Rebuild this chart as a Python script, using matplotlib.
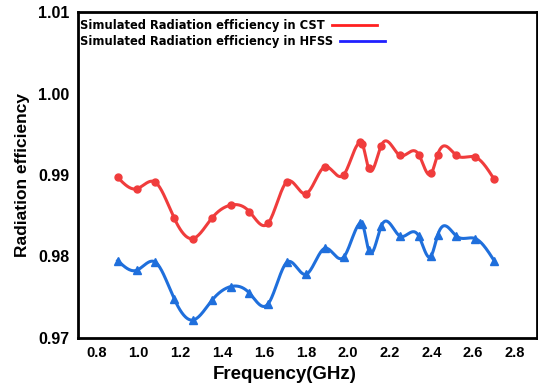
import matplotlib
matplotlib.use('Agg')
import matplotlib.pyplot as plt
from matplotlib.lines import Line2D
import numpy as np

plt.rcParams['font.family'] = ['Liberation Sans', 'DejaVu Sans']
plt.rcParams['font.weight'] = 'bold'

# Frequency points (GHz)
freq = [0.90, 0.99, 1.08, 1.17, 1.26, 1.35, 1.44, 1.53, 1.62, 1.71, 1.80,
        1.89, 1.98, 2.06, 2.07, 2.10, 2.16, 2.25, 2.34, 2.40, 2.43, 2.52,
        2.61, 2.70]

# Radiation efficiency from CST
eff_cst = [0.9897, 0.9883, 0.9891, 0.9847, 0.9822, 0.9847, 0.9863, 0.9855,
           0.9841, 0.9892, 0.9877, 0.9910, 0.9900, 0.9940, 0.9938, 0.9908,
           0.9936, 0.9924, 0.9925, 0.9902, 0.9925, 0.9924, 0.9922, 0.9895]

# Radiation efficiency from HFSS
eff_hfss = [0.9795, 0.9783, 0.9793, 0.9748, 0.9722, 0.9746, 0.9763, 0.9755,
            0.9742, 0.9793, 0.9778, 0.9810, 0.9799, 0.9841, 0.9840, 0.9808,
            0.9837, 0.9825, 0.9825, 0.9801, 0.9826, 0.9825, 0.9822, 0.9795]

xticks = [0.8, 1.0, 1.2, 1.4, 1.6, 1.8, 2.0, 2.2, 2.4, 2.6, 2.8]
yticks = [0.97, 0.98, 0.99, 1.00, 1.01]


def spline(x, y, n=600):
    # natural cubic spline through the points (smooth connecting line)
    x = np.asarray(x, float)
    y = np.asarray(y, float)
    k = len(x)
    h = np.diff(x)
    A = np.zeros((k, k))
    b = np.zeros(k)
    A[0, 0] = A[-1, -1] = 1
    for i in range(1, k - 1):
        A[i, i - 1] = h[i - 1]
        A[i, i] = 2 * (h[i - 1] + h[i])
        A[i, i + 1] = h[i]
        b[i] = 6 * ((y[i + 1] - y[i]) / h[i] - (y[i] - y[i - 1]) / h[i - 1])
    M = np.linalg.solve(A, b)
    xs = np.linspace(x[0], x[-1], n)
    idx = np.clip(np.searchsorted(x, xs) - 1, 0, k - 2)
    x0, x1 = x[idx], x[idx + 1]
    hh = x1 - x0
    t0, t1 = x1 - xs, xs - x0
    ys = (M[idx] * t0**3 + M[idx + 1] * t1**3) / (6 * hh) \
        + (y[idx] / hh - M[idx] * hh / 6) * t0 \
        + (y[idx + 1] / hh - M[idx + 1] * hh / 6) * t1
    return xs, ys


red = '#f03c3c'
blue = '#1f6fdc'

fig = plt.figure(figsize=(5.38, 3.88), dpi=100)
ax = fig.add_axes([0.145, 0.129, 0.853, 0.840])

xs, ys = spline(freq, eff_cst)
ax.plot(xs, ys, color=red, lw=2.2)
ax.plot(freq, eff_cst, 'o', color=red, markersize=5)

xs, ys = spline(freq, eff_hfss)
ax.plot(xs, ys, color=blue, lw=2.2)
ax.plot(freq, eff_hfss, '^', color=blue, markersize=6)

ax.set_xlim(0.71, 2.905)
ax.set_ylim(0.97, 1.01)
ax.set_xticks(xticks)
ax.set_xticklabels(['%.1f' % v for v in xticks], fontsize=10.5, fontweight='bold')
ax.set_yticks(yticks)
ax.set_yticklabels(['%.2f' % v for v in yticks], fontsize=11.5, fontweight='bold')
ax.tick_params(length=0, pad=6)

for s in ax.spines.values():
    s.set_linewidth(2)

ax.set_xlabel('Frequency(GHz)', fontsize=13.5, fontweight='bold')
ax.xaxis.set_label_coords(0.45, -0.085)
ax.set_ylabel('Radiation efficiency', fontsize=12.5, fontweight='bold')
ax.yaxis.set_label_coords(-0.105, 0.5)

handles = [Line2D([], [], color='#ff2020', lw=2),
           Line2D([], [], color='#2020ff', lw=2)]
labels = ['Simulated Radiation efficiency in CST',
          'Simulated Radiation efficiency in HFSS']
leg = ax.legend(handles, labels, loc='upper left', bbox_to_anchor=(0, 0.985),
                frameon=False, markerfirst=False,
                prop={'family': 'DejaVu Sans', 'size': 8.3, 'weight': 'bold'},
                handlelength=3.9, borderaxespad=0.1, borderpad=0.1,
                labelspacing=0.25, handletextpad=0.6)
# keep texts left-aligned with the handle right after each text
for col in leg._legend_handle_box.get_children():
    col.align = 'left'

fig.savefig('out.png', dpi=100)
